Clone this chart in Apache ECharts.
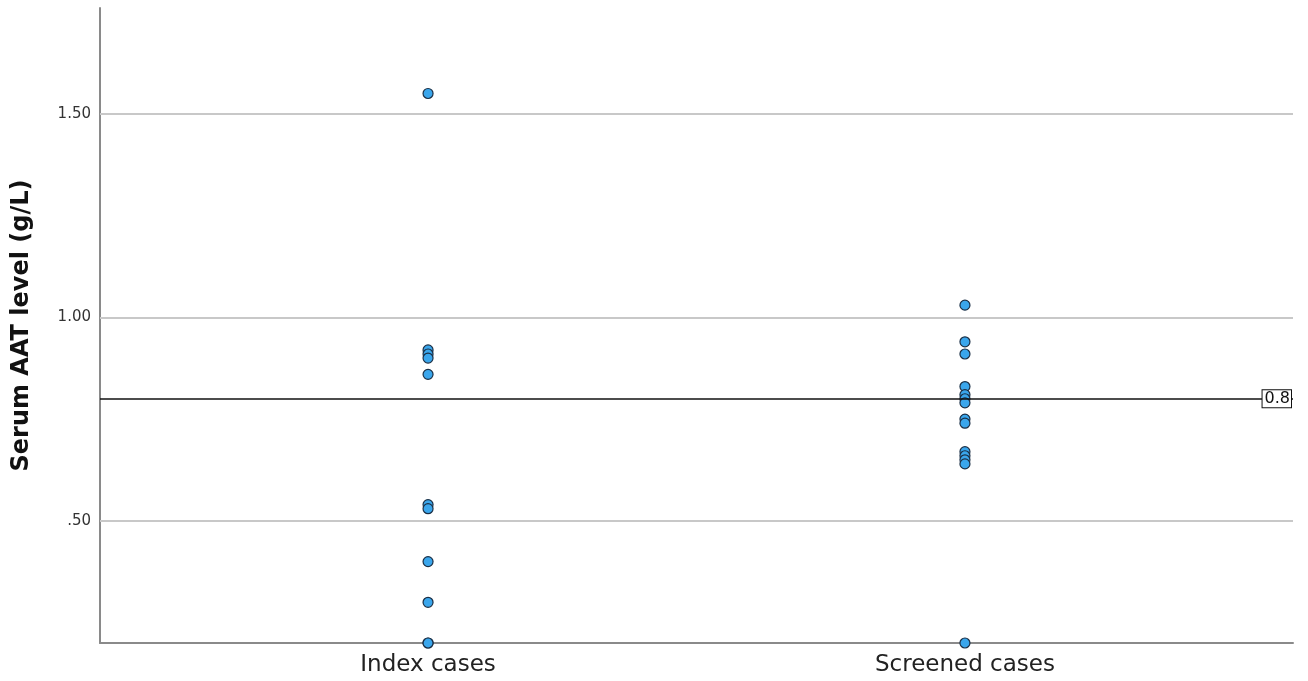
<!DOCTYPE html>
<html><head><meta charset="utf-8">
<script src="https://cdn.jsdelivr.net/npm/echarts@6/dist/echarts.min.js"></script>
<style>html,body{margin:0;padding:0;background:#fff}#c{width:1308px;height:681px}</style>
</head><body><div id="c"></div>
<script>
const categories = ["Index cases", "Screened cases"];
const indexValues = [1.55, 0.92, 0.91, 0.90, 0.86, 0.54, 0.53, 0.40, 0.30, 0.20, 0.20];
const screenedValues = [1.03, 0.94, 0.91, 0.83, 0.81, 0.80, 0.79, 0.75, 0.74, 0.67, 0.66, 0.65, 0.64, 0.20];
const yTicks = [0.5, 1.0, 1.5];
const refValue = 0.8;
const yAxisTitle = "Serum AAT level (g/L)";

const points = [];
indexValues.forEach(v => points.push([0, v]));
screenedValues.forEach(v => points.push([1, v]));

const chart = echarts.init(document.getElementById('c'), null, {renderer: 'canvas'});
chart.setOption({
  animation: false,
  backgroundColor: '#fff',
  grid: {left: 100, right: 15, top: 8, bottom: 38, containLabel: false},
  xAxis: {
    type: 'value', min: -0.611, max: 1.611,
    splitLine: {show: false},
    axisTick: {show: false},
    axisLine: {show: true, onZero: false, lineStyle: {color: '#8a8a8a', width: 2}},
    axisLabel: {
      customValues: [0, 1],
      formatter: v => categories[Math.round(v)],
      fontFamily: 'DejaVu Sans', fontSize: 23, color: '#222', margin: 11
    }
  },
  yAxis: {
    type: 'value', min: 0.2, max: 1.76,
    name: yAxisTitle, nameLocation: 'middle', nameGap: 66, nameRotate: 90,
    nameTextStyle: {fontFamily: 'DejaVu Sans', fontSize: 24, fontWeight: 'bold', color: '#111'},
    axisLine: {show: true, onZero: false, lineStyle: {color: '#8a8a8a', width: 2}},
    axisTick: {show: false},
    splitLine: {show: false},
    axisLabel: {
      customValues: yTicks,
      formatter: v => v.toFixed(2).replace(/^0/, ''),
      fontFamily: 'DejaVu Sans', fontSize: 15, color: '#333', margin: 9
    }
  },
  series: [{
    type: 'scatter',
    data: [],
    markLine: {
      silent: true, symbol: 'none',
      lineStyle: {color: '#c8c8c8', width: 2, type: 'solid'},
      label: {show: false},
      data: yTicks.map(v => ({yAxis: v}))
    }
  }, {
    type: 'scatter',
    data: points,
    symbolSize: 10,
    itemStyle: {color: '#3aa6ec', borderColor: '#1b2f45', borderWidth: 1.2, opacity: 1},
    markLine: {
      silent: true, symbol: 'none',
      lineStyle: {color: '#111', width: 1.6, type: 'solid'},
      label: {
        show: true, position: 'insideEnd', distance: 2,
        formatter: String(refValue),
        fontFamily: 'DejaVu Sans', fontSize: 16, color: '#111',
        backgroundColor: '#fff', borderColor: '#111', borderWidth: 1, padding: [1, 1, 0, 2]
      },
      data: [{yAxis: refValue}]
    }
  }]
});
</script></body></html>
